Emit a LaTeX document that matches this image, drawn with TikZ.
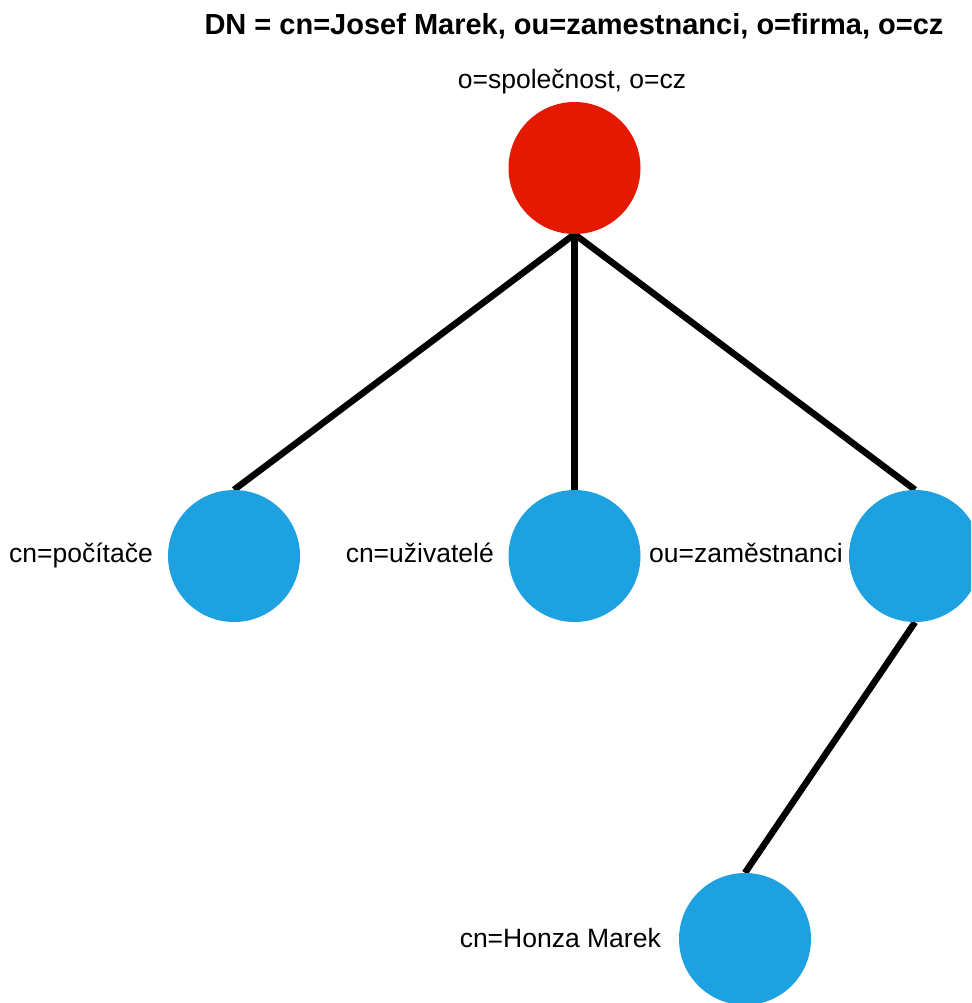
\documentclass[tikz,border=0pt]{standalone}
\usepackage{fontspec}
\setmainfont{Liberation Sans}
\begin{document}
\begin{tikzpicture}[x=1pt,y=-1pt,
  entry/.style={circle,inner sep=0pt,minimum size=132pt},
  link/.style={line width=6.5pt,black},
  lbl/.style={inner sep=0pt,font=\fontsize{26.5}{31}\selectfont},
]
\definecolor{rootred}{HTML}{E51800}
\definecolor{leafblue}{HTML}{1DA1E0}
\useasboundingbox (0,0) rectangle (971,1003);
\begin{scope}
\clip (0,0) rectangle (971,1003);
% tree entries (shapes only; discs are painted after the connectors)
\node[entry] (root) at (574.5,168) {};
\node[entry] (pc)   at (234,556) {};
\node[entry] (usr)  at (574.5,556) {};
\node[entry] (emp)  at (915,556) {};
\node[entry] (hm)   at (745,939) {};
% connectors
\draw[link] (root.south) -- (pc.north);
\draw[link] (root.south) -- (usr.north);
\draw[link] (root.south) -- (emp.north);
\draw[link] (emp.south) -- (hm.north);
% discs over the line ends
\fill[rootred] (root.center) circle (66);
\fill[leafblue] (pc.center) circle (66);
\fill[leafblue] (usr.center) circle (66);
\fill[leafblue] (emp.center) circle (66);
\fill[leafblue] (hm.center) circle (66);
\end{scope}
% labels
\node[inner sep=0pt,anchor=base,font=\fontsize{29}{34}\selectfont\bfseries] (title) at (574,35) {DN = cn=Josef Marek, ou=zamestnanci, o=firma, o=cz};
\node[lbl,anchor=base] (rootlbl) at (572,89) {o=společnost, o=cz};
\node[lbl,anchor=base east] (pclbl) at (153,562) {cn=počítače};
\node[lbl,anchor=base east] (usrlbl) at (494,562) {cn=uživatelé};
\node[lbl,anchor=base east] (emplbl) at (843,562) {ou=zaměstnanci};
\node[lbl,anchor=base east] (hmlbl) at (661,947) {cn=Honza Marek};
\end{tikzpicture}
\end{document}
